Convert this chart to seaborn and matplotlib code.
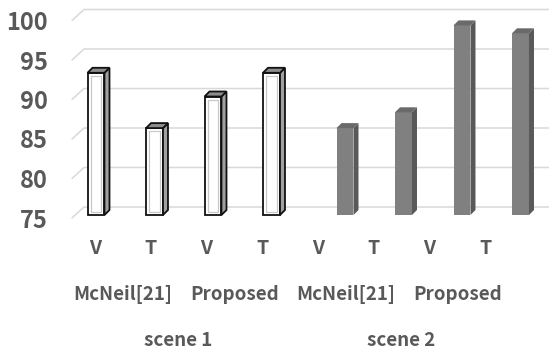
import matplotlib
matplotlib.use("Agg")
import matplotlib.pyplot as plt
import pandas as pd
import seaborn as sns
from matplotlib.patches import Polygon, Rectangle
from matplotlib.transforms import IdentityTransform, ScaledTranslation

# ---- data -------------------------------------------------------------
scenes = ["scene 1"] * 4 + ["scene 2"] * 4
methods = ["McNeil[21]", "McNeil[21]", "Proposed", "Proposed"] * 2
modes = ["V", "T", "V", "T", "V", "T", "V", "T"]
accuracy = [93, 86, 90, 93, 86, 88, 99, 98]
y_ticks = [75, 80, 85, 90, 95, 100]

df = pd.DataFrame({
    "pos": list(range(len(accuracy))),
    "scene": scenes,
    "method": methods,
    "mode": modes,
    "accuracy": accuracy,
})

# ---- figure -----------------------------------------------------------
W, H, DPI = 549, 351, 100
sns.set_theme(style="white")
plt.rcParams["font.family"] = ["Noto Sans CJK KR", "DejaVu Sans"]
TXT = "#595959"
WEIGHT = "bold"

fig = plt.figure(figsize=(W / DPI, H / DPI), dpi=DPI)


def fx(px):
    return px / W


def fy(py):
    return 1 - py / H


# plotting area: floor (75) at y=215 px, 100 at y=17.5 px (from top)
left_px, right_px = 66, 549
ax = fig.add_axes([fx(left_px), fy(215), fx(right_px) - fx(left_px), fy(17.5) - fy(215)])

sns.barplot(data=df, x="pos", y="accuracy", hue="scene",
            palette={"scene 1": "white", "scene 2": "#808080"},
            dodge=False, width=0.29, legend=False, ax=ax, zorder=3)

BASE = 75
step = 58.5          # pixels per category
group_gap = 15 / step  # extra room between the two scenes (data units)
ax.set_xlim((left_px - 96) / step, (right_px - 96) / step)
ax.set_ylim(BASE, 100)
ax.set_yticks(y_ticks)
ax.set_yticklabels([str(t) for t in y_ticks], fontsize=17, color=TXT,
                   fontweight=WEIGHT)
ax.tick_params(axis="y", length=0, pad=13)
# value labels sit on the front plane, slightly below the column floor
drop = ScaledTranslation(0, -3 / DPI, fig.dpi_scale_trans)
for tl in ax.get_yticklabels():
    tl.set_transform(tl.get_transform() + drop)
ax.set_xticks([])
ax.set_xlabel("")
ax.set_ylabel("")
sns.despine(ax=ax, left=True, bottom=True)
ax.grid(False)

to_px = ax.transData.transform
ident = IdentityTransform()

# back-wall gridlines with a slanted floor edge on the left
for t in y_ticks:
    _, yf = to_px((0, t))
    xs = [72, 84, W]
    ys = [yf - 3, yf + 8, yf + 8]
    ax.plot(xs, ys, color="#d9d9d9", lw=1.1, transform=ident,
            clip_on=False, zorder=0)

# extrude each bar into a 3D column standing on the axis floor
dx, dy = 5, 5
for patch in ax.patches:
    x0 = patch.get_x()
    w = patch.get_width()
    top = patch.get_height()
    idx = int(round(x0 + w / 2))
    hollow = scenes[idx] == "scene 1"
    if not hollow:
        x0 += group_gap
        patch.set_x(x0)
    patch.set_y(BASE)
    patch.set_height(top - BASE)
    patch.set_clip_on(False)
    xl, yb = to_px((x0, BASE))
    xr, yt = to_px((x0 + w, top))
    if hollow:
        front_c, side_c, top_c, ec, lw = "white", "#a0a0a0", "#8c8c8c", "#111111", 1.3
    else:
        front_c, side_c, top_c, ec, lw = "#808080", "#595959", "#6a6a6a", "none", 0
    patch.set_facecolor(front_c)
    patch.set_edgecolor(ec)
    patch.set_linewidth(lw)
    side = Polygon([(xr, yb), (xr + dx, yb + dy), (xr + dx, yt + dy), (xr, yt)],
                   closed=True, facecolor=side_c, edgecolor=ec, lw=lw,
                   transform=ident, clip_on=False, zorder=4)
    cap = Polygon([(xl, yt), (xl + dx, yt + dy), (xr + dx, yt + dy), (xr, yt)],
                  closed=True, facecolor=top_c, edgecolor=ec, lw=lw,
                  transform=ident, clip_on=False, zorder=4)
    ax.add_patch(side)
    ax.add_patch(cap)
    if hollow:
        inner = Rectangle((xl + 3, yb + 3), (xr - xl) - 6, (yt - yb) - 6,
                          facecolor="none", edgecolor="#c8c8c8", lw=0.9,
                          transform=ident, clip_on=False, zorder=5)
        ax.add_patch(inner)

# ---- multi-level category labels -------------------------------------
lab = fig.add_axes([fx(67), 0, fx(513) - fx(67), 1])
lab.set_xlim(-0.5, 7.5)
lab.set_ylim(H, 0)
lab.axis("off")

for i, m in enumerate(modes):
    lab.text(i, 248, m, ha="center", va="center", fontsize=14, color=TXT,
             fontweight=WEIGHT)

for j in range(0, len(methods), 2):
    lab.text(j + 0.5, 295, methods[j], ha="center", va="center",
             fontsize=13.5, color=TXT, fontweight=WEIGHT)

for j in range(0, len(scenes), 4):
    lab.text(j + 1.5, 340, scenes[j], ha="center", va="center",
             fontsize=13.5, color=TXT, fontweight=WEIGHT)

fig.savefig("out.png", dpi=DPI)
